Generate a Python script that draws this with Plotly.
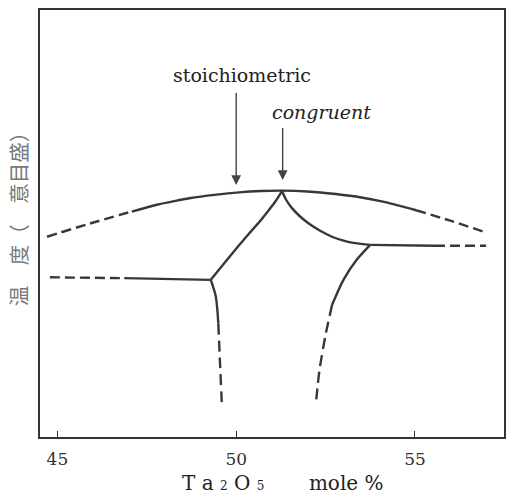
import plotly.graph_objects as go

# ---- data (Ta2O5 mole %, temperature in arbitrary units 0-100) ----
liq_left_dash_x = [44.71, 45.91, 47.08]
liq_left_dash_y = [46.9, 50.0, 52.8]
liq_solid_x = [47.08, 47.78, 48.30, 48.69, 49.39, 50.08, 50.70, 51.28, 52.00, 52.78, 53.50, 54.17, 55.03]
liq_solid_y = [52.8, 54.4, 55.3, 55.9, 56.7, 57.3, 57.6, 57.7, 57.5, 56.9, 56.1, 55.0, 53.1]
liq_right_dash_x = [55.03, 56.01, 56.99]
liq_right_dash_y = [53.1, 50.6, 47.9]

sol_left_x = [49.29, 49.58, 49.89, 50.17, 50.45, 50.70, 50.91, 51.10, 51.28]
sol_left_y = [36.8, 39.8, 43.0, 45.8, 48.5, 50.9, 53.1, 55.2, 57.6]
sol_right_x = [51.28, 51.40, 51.56, 51.78, 52.03, 52.35, 52.68, 53.00, 53.33, 53.75]
sol_right_y = [57.6, 55.5, 53.6, 51.7, 50.0, 48.3, 46.9, 46.0, 45.4, 45.0]

eut_left_dash_x = [44.79, 46.87]
eut_left_dash_y = [37.4, 37.2]
eut_left_solid_x = [46.87, 49.29]
eut_left_solid_y = [37.2, 36.8]

eut_right_solid_x = [53.75, 55.56]
eut_right_solid_y = [45.0, 44.8]
eut_right_dash_x = [55.56, 56.99]
eut_right_dash_y = [44.8, 44.8]

vert_left_solid_x = [49.29, 49.43, 49.50]
vert_left_solid_y = [36.8, 32.9, 26.6]
vert_left_dash_x = [49.50, 49.55, 49.60]
vert_left_dash_y = [26.6, 16.9, 7.5]

vert_right_solid_x = [53.75, 53.37, 53.00, 52.68]
vert_right_solid_y = [45.0, 41.5, 36.8, 30.9]
vert_right_dash_x = [52.68, 52.50, 52.33, 52.23]
vert_right_dash_y = [30.9, 23.9, 15.7, 7.9]

stoich_x = 50.0
stoich_tail_y, stoich_tip_y = 80.9, 59.0
stoich_label_x, stoich_label_y = 50.17, 84.8
congr_x = 51.30
congr_tail_y, congr_tip_y = 72.7, 60.2
congr_label_x, congr_label_y = 52.39, 76.2

x_ticks = [45, 50, 55]
x_tick_labels = ["45", "50", "55"]

LINE = "#383838"
SOLID_W = 2.4
DASH1 = "10px,5px"
DASH2 = "11px,6px"

fig = go.Figure()

def add(x, y, dash="solid"):
    fig.add_trace(go.Scatter(
        x=x, y=y, mode="lines",
        line=dict(color=LINE, width=SOLID_W, dash=dash, shape="spline", smoothing=0.8),
        hoverinfo="skip", showlegend=False))

add(liq_left_dash_x, liq_left_dash_y, DASH1)
add(liq_solid_x, liq_solid_y)
add(liq_right_dash_x, liq_right_dash_y, DASH1)
add(sol_left_x, sol_left_y)
add(sol_right_x, sol_right_y)
add(eut_left_dash_x, eut_left_dash_y, DASH1)
add(eut_left_solid_x, eut_left_solid_y)
add(eut_right_solid_x, eut_right_solid_y)
add(eut_right_dash_x, eut_right_dash_y, DASH1)
add(vert_left_solid_x, vert_left_solid_y)
add(vert_left_dash_x, vert_left_dash_y, DASH2)
add(vert_right_solid_x, vert_right_solid_y)
add(vert_right_dash_x, vert_right_dash_y, DASH2)

SERIF = "DejaVu Serif"

# arrows
for xx, tail, tip in [(stoich_x, stoich_tail_y, stoich_tip_y), (congr_x, congr_tail_y, congr_tip_y)]:
    fig.add_annotation(x=xx, y=tip, ax=xx, ay=tail, axref="x", ayref="y",
                       xref="x", yref="y", text="", showarrow=True,
                       arrowhead=2, arrowsize=1.4, arrowwidth=1.4, arrowcolor="#444")

fig.add_annotation(x=stoich_label_x, y=stoich_label_y, xref="x", yref="y",
                   text="stoichiometric", showarrow=False,
                   font=dict(family=SERIF, size=19, color="#222"))
fig.add_annotation(x=congr_label_x, y=congr_label_y, xref="x", yref="y",
                   text="<i>congruent</i>", showarrow=False,
                   font=dict(family=SERIF, size=19, color="#222"))

# x-axis title
nb = "\u00a0"
sub = "<span style='font-size:12px;color:#222'>{}</span>"
title_txt = ("T" + nb + "a" + nb + sub.format("2") + nb + "O" + nb +
             sub.format("5") + nb * 7 + "mole" + nb + "%")
fig.add_annotation(x=51.30, y=-0.108, xref="x", yref="paper", text=title_txt,
                   showarrow=False, xanchor="center", yanchor="middle",
                   font=dict(family=SERIF, size=20, color="#222"))

# y-axis title (vertical)
fig.add_annotation(x=-0.047, y=0.522, xref="paper", yref="paper",
                   text="温　度（　意目盛）", textangle=-90, showarrow=False,
                   xanchor="center", yanchor="middle",
                   font=dict(family="Noto Sans CJK JP", size=20.5, color="#777"))

fig.update_layout(
    width=508, height=495,
    margin=dict(l=40, r=2, t=10, b=58),
    paper_bgcolor="white", plot_bgcolor="white",
    xaxis=dict(range=[44.513, 57.49], tickvals=x_ticks, ticktext=x_tick_labels,
               ticks="inside", ticklen=6, tickwidth=1.3, tickcolor="#333",
               ticklabelstandoff=6,
               showgrid=False, zeroline=False, showline=True, mirror=True,
               linecolor="#333", linewidth=1.6,
               tickfont=dict(family=SERIF, size=17, color="#333")),
    yaxis=dict(range=[0, 100], showticklabels=False, ticks="", showgrid=False,
               zeroline=False, showline=True, mirror=True,
               linecolor="#333", linewidth=1.6),
)

fig.write_html("out.html")
